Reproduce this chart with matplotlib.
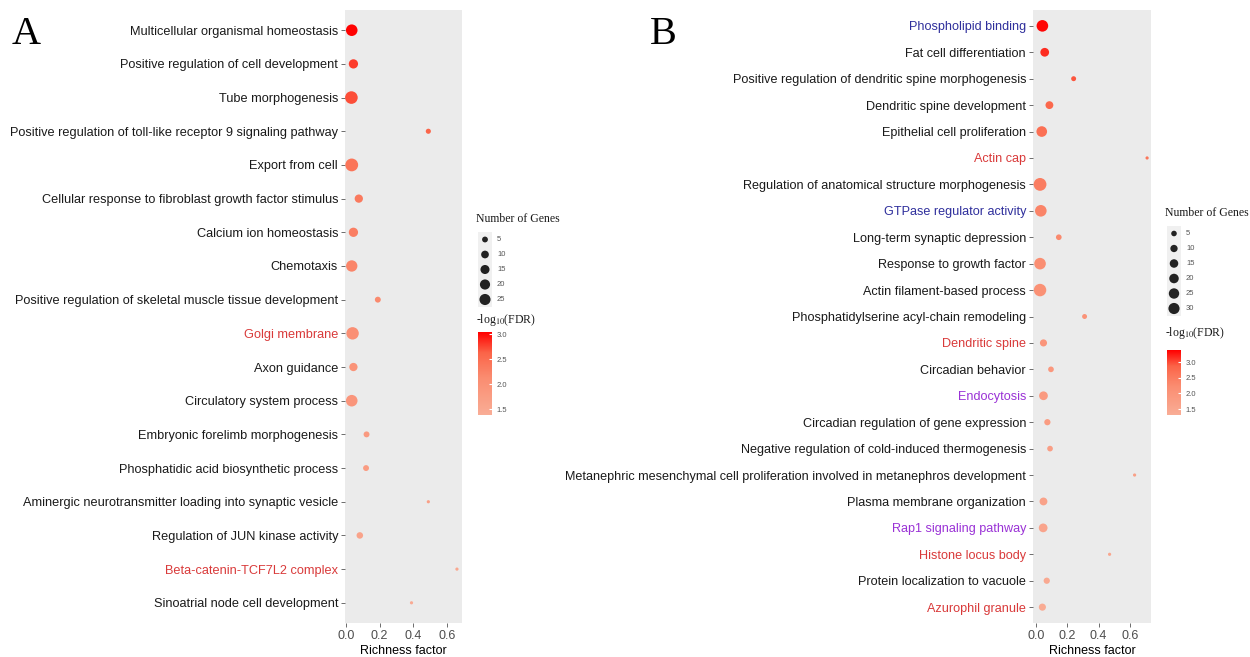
import numpy as np
import matplotlib

matplotlib.use("Agg")
import matplotlib.pyplot as plt
from matplotlib.colors import LinearSegmentedColormap, Normalize
from matplotlib.cm import ScalarMappable

# ---- data: panel A ----
terms_a = [
    "Multicellular organismal homeostasis",
    "Positive regulation of cell development",
    "Tube morphogenesis",
    "Positive regulation of toll-like receptor 9 signaling pathway",
    "Export from cell",
    "Cellular response to fibroblast growth factor stimulus",
    "Calcium ion homeostasis",
    "Chemotaxis",
    "Positive regulation of skeletal muscle tissue development",
    "Golgi membrane",
    "Axon guidance",
    "Circulatory system process",
    "Embryonic forelimb morphogenesis",
    "Phosphatidic acid biosynthetic process",
    "Aminergic neurotransmitter loading into synaptic vesicle",
    "Regulation of JUN kinase activity",
    "Beta-catenin-TCF7L2 complex",
    "Sinoatrial node cell development",
]
richness_a = [0.035, 0.045, 0.033, 0.49, 0.035, 0.077, 0.045, 0.035, 0.19, 0.04,
              0.045, 0.035, 0.123, 0.12, 0.49, 0.083, 0.66, 0.39]
genes_a = [21, 12, 26, 3, 27, 9, 12, 20, 4, 25, 9, 21, 4, 4, 2, 5, 2, 2]
fdr_a = [3.04, 2.8, 2.72, 2.62, 2.42, 2.36, 2.3, 2.22, 2.15, 2.06, 1.97, 1.92,
         1.82, 1.77, 1.7, 1.62, 1.52, 1.45]
label_color_a = ["k"] * 9 + ["r"] + ["k"] * 6 + ["r", "k"]

# ---- data: panel B ----
terms_b = [
    "Phospholipid binding",
    "Fat cell differentiation",
    "Positive regulation of dendritic spine morphogenesis",
    "Dendritic spine development",
    "Epithelial cell proliferation",
    "Actin cap",
    "Regulation of anatomical structure morphogenesis",
    "GTPase regulator activity",
    "Long-term synaptic depression",
    "Response to growth factor",
    "Actin filament-based process",
    "Phosphatidylserine acyl-chain remodeling",
    "Dendritic spine",
    "Circadian behavior",
    "Endocytosis",
    "Circadian regulation of gene expression",
    "Negative regulation of cold-induced thermogenesis",
    "Metanephric mesenchymal cell proliferation involved in metanephros development",
    "Plasma membrane organization",
    "Rap1 signaling pathway",
    "Histone locus body",
    "Protein localization to vacuole",
    "Azurophil granule",
]
richness_b = [0.04, 0.055, 0.24, 0.085, 0.036, 0.71, 0.025, 0.03, 0.145, 0.025,
              0.025, 0.31, 0.047, 0.095, 0.047, 0.072, 0.089, 0.63, 0.047,
              0.045, 0.47, 0.068, 0.04]
genes_b = [25, 12, 3, 9, 20, 2, 32, 25, 4, 25, 30, 3, 7, 4, 12, 5, 4, 2, 9, 12,
           2, 5, 7]
fdr_b = [3.35, 3.15, 2.95, 2.8, 2.68, 2.58, 2.48, 2.38, 2.28, 2.2, 2.12, 2.05,
         1.98, 1.92, 1.86, 1.8, 1.74, 1.68, 1.62, 1.56, 1.5, 1.44, 1.38]
label_color_b = ["b", "k", "k", "k", "k", "r", "k", "b", "k", "k", "k", "k",
                 "r", "k", "p", "k", "k", "k", "k", "p", "r", "k", "r"]

size_breaks_a = [5, 10, 15, 20, 25]
size_breaks_b = [5, 10, 15, 20, 25, 30]
color_ticks = [1.5, 2.0, 2.5, 3.0]

W, H = 1250, 657
text_colors = {"k": "#1a1a1a", "r": "#d93a3a", "b": "#2f2f9c", "p": "#9a32d6"}
# ggplot-ish gradient (interpolated in Lab, so the middle stays lighter)
cmap = LinearSegmentedColormap.from_list(
    "fdr", [(0.0, "#f9ad96"), (0.45, "#fa8c70"), (0.75, "#fb6448"), (1.0, "#ff0000")])

plt.rcParams["font.family"] = ["Liberation Sans", "DejaVu Sans"]
plt.rcParams["mathtext.fontset"] = "stix"


def px_box(x0, y0, x1, y1):
    return [x0 / W, 1 - y1 / H, (x1 - x0) / W, (y1 - y0) / H]


def point_size(n, nmin, nmax):
    # ggplot-like area scale, diameter in pixels -> scatter area in pt^2
    frac = np.sqrt((np.asarray(n, float) - nmin) / (nmax - nmin))
    diam_px = 3.2 + 9.6 * np.clip(frac, 0, 1)
    return (diam_px * 72 / 100) ** 2


def draw_panel(fig, box, terms, ratio, genes, fdr, lab_cols, xlim, norm, fsize):
    ax = fig.add_axes(px_box(*box))
    n = len(terms)
    y = np.arange(n)[::-1]
    ax.set_facecolor("#ebebeb")
    ax.scatter(ratio, y, s=point_size(genes, min(genes), max(genes)),
               c=fdr, cmap=cmap, norm=norm, linewidths=0, zorder=3)
    ax.set_xlim(*xlim)
    ax.set_ylim(-0.6, n - 0.4)
    ax.set_yticks(y)
    ax.set_yticklabels(terms, fontsize=fsize)
    for lab, c in zip(ax.get_yticklabels(), lab_cols):
        lab.set_color(text_colors[c])
    ax.set_xticks([0.0, 0.2, 0.4, 0.6])
    ax.set_xticklabels(["0.0", "0.2", "0.4", "0.6"], fontsize=9, color="#4d4d4d")
    ax.tick_params(axis="both", length=3, width=0.6, color="#555555", pad=2)
    ax.set_xlabel("Richness factor", fontsize=9, labelpad=2)
    for s in ax.spines.values():
        s.set_visible(False)
    return ax


def draw_legend(fig, x0, title_y, breaks, gmin, gmax, bar_top, bar_bot, norm, col_title_y):
    key_h = 15
    top = title_y + 13
    lax = fig.add_axes(px_box(x0 - 2, title_y - 10, x0 + 90, top + key_h * len(breaks) + 2))
    lax.set_xlim(x0 - 2, x0 + 90)
    lax.set_ylim(top + key_h * len(breaks) + 2, title_y - 10)
    lax.axis("off")
    lax.text(x0, title_y, "Number of Genes", family="Liberation Serif", fontsize=8.5,
             va="center", ha="left", color="#1a1a1a", clip_on=False)
    lax.add_patch(plt.Rectangle((x0 + 2, top), 14, key_h * len(breaks),
                                color="#f0f0f0", lw=0))
    ky = [top + key_h * (i + 0.5) for i in range(len(breaks))]
    lax.scatter([x0 + 9] * len(breaks), ky, s=point_size(breaks, gmin, gmax) * 0.8,
                color="#222222", linewidths=0)
    for yy, b in zip(ky, breaks):
        lax.text(x0 + 21, yy, str(b), fontsize=5.5, color="#555555", va="center")
    fig.text(x0 / W, 1 - col_title_y / H, r"-log$_{10}$(FDR)", family="Liberation Serif",
             fontsize=8.5, va="center", ha="left", color="#1a1a1a")
    cax = fig.add_axes(px_box(x0 + 2, bar_top, x0 + 16, bar_bot))
    cb = fig.colorbar(ScalarMappable(norm=norm, cmap=cmap), cax=cax)
    cb.outline.set_visible(False)
    cb.set_ticks(color_ticks)
    cb.ax.tick_params(labelsize=5.5, labelcolor="#555555", length=2, color="white",
                      pad=3, direction="in")


fig = plt.figure(figsize=(W / 100, H / 100), dpi=100)

norm_a = Normalize(1.38, 3.05)
norm_b = Normalize(1.31, 3.39)

draw_panel(fig, (345, 10, 462, 623), terms_a, richness_a, genes_a, fdr_a,
           label_color_a, (-0.005, 0.69), norm_a, 9.2)
draw_panel(fig, (1033, 10, 1151, 623), terms_b, richness_b, genes_b, fdr_b,
           label_color_b, (-0.02, 0.735), norm_b, 9.05)

draw_legend(fig, 476, 219, size_breaks_a, min(genes_a), max(genes_a), 332, 415,
            norm_a, 320)
draw_legend(fig, 1165, 213, size_breaks_b, min(genes_b), max(genes_b), 350, 415,
            norm_b, 333)

fig.text(12 / W, 1 - 34 / H, "A", family="Liberation Serif", fontsize=29,
         va="center", ha="left")
fig.text(650 / W, 1 - 34 / H, "B", family="Liberation Serif", fontsize=29,
         va="center", ha="left")

fig.savefig("out.png", dpi=100)
plt.close(fig)
